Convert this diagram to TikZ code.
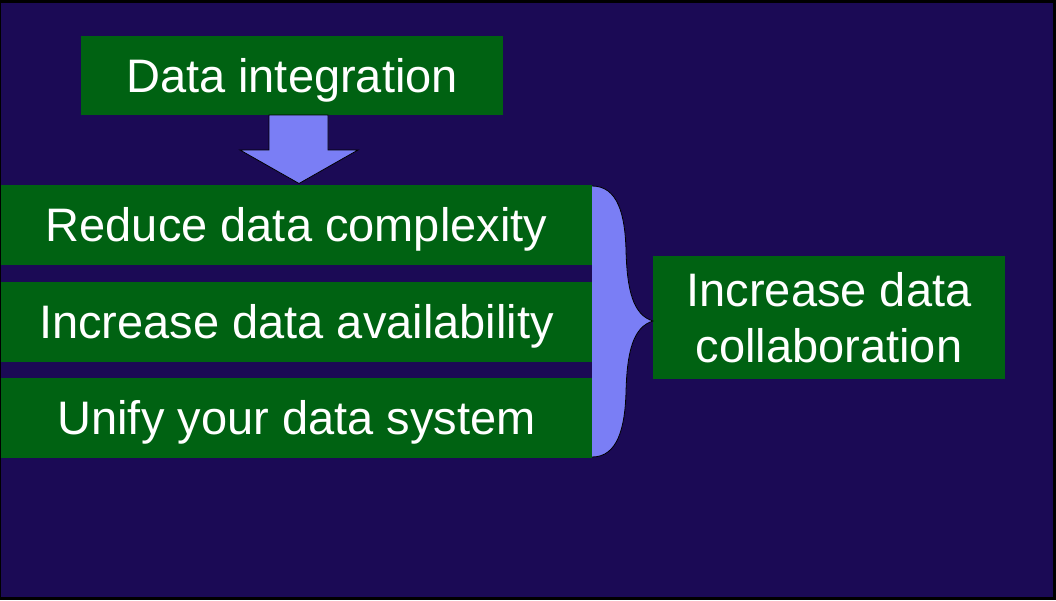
\documentclass[tikz,border=0pt]{standalone}
\usepackage{fontspec}
\setmainfont{Liberation Sans}
\definecolor{bgnavy}{RGB}{27,10,85}
\definecolor{boxgreen}{RGB}{0,98,18}
\definecolor{lightblue}{RGB}{122,126,245}
\begin{document}
\begin{tikzpicture}[x=1pt,y=-1pt,
  greenbox/.style={rectangle, fill=boxgreen, inner sep=0pt, text=white,
    font=\fontsize{47}{56}\selectfont, text height=33.6pt, text depth=0pt},
  txt/.style={inner sep=0pt, text=white, font=\fontsize{47}{56}\selectfont},
  blockshape/.style={fill=lightblue, draw=black, line width=0.8pt, line join=miter}]
\useasboundingbox (0,0) rectangle (1056,600);
\fill[black] (0,0) rectangle (1056,600);
\fill[bgnavy] (1,3) rectangle (1053,597);
% boxes
\node[greenbox, minimum width=422pt, minimum height=79pt] (di) at (292,75.5) {Data integration};
\node[greenbox, minimum width=591pt, minimum height=80pt] (r1) at (296.5,225) {Reduce data complexity};
\node[greenbox, minimum width=591pt, minimum height=80pt] (r2) at (296.5,322) {Increase data availability};
\node[greenbox, minimum width=591pt, minimum height=80pt] (r3) at (296.5,418) {Unify your data system};
\node[rectangle, fill=boxgreen, minimum width=352pt, minimum height=123pt, inner sep=0pt] (res) at (829,317.5) {};
\node[txt, anchor=base] (res1) at (829,306) {Increase data};
\node[txt, anchor=base] (res2) at (829,362.7) {collaboration};
% block arrow from di to r1
\draw[blockshape] (269,115) -- (328,115) -- (328,150) -- (358,150) -- (299,183.5)
  -- (240,150) -- (269,150) -- cycle;
% brace
\fill[lightblue] (592,186) .. controls (618,186) and (625,215) .. (626,250)
  .. controls (627,290) and (633,315) .. (653,321)
  .. controls (633,327) and (627,352) .. (626,392)
  .. controls (625,427) and (618,457) .. (592,457) -- cycle;
\draw[black, line width=0.8pt] (592,186) .. controls (618,186) and (625,215) .. (626,250)
  .. controls (627,290) and (633,315) .. (653,321)
  .. controls (633,327) and (627,352) .. (626,392)
  .. controls (625,427) and (618,457) .. (592,457);
\end{tikzpicture}
\end{document}
